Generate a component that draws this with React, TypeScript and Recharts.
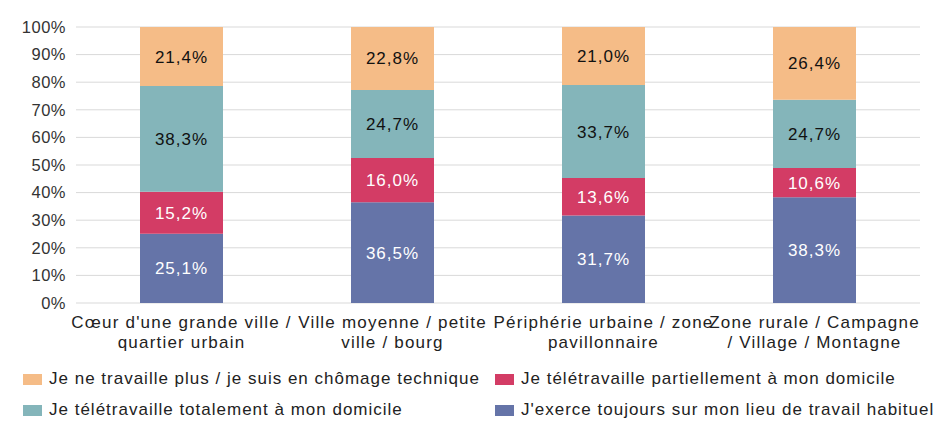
import React from "react";
import {
  BarChart,
  Bar,
  XAxis,
  YAxis,
  CartesianGrid,
  LabelList,
} from "recharts";

// categories, two lines each
const categories = [
  ["Cœur d'une grande ville /", "quartier urbain"],
  ["Ville moyenne / petite", "ville / bourg"],
  ["Périphérie urbaine / zone", "pavillonnaire"],
  ["Zone rurale / Campagne", "/ Village / Montagne"],
];

const exerce = [25.1, 36.5, 31.7, 38.3];
const partiel = [15.2, 16.0, 13.6, 10.6];
const total = [38.3, 24.7, 33.7, 24.7];
const plus = [21.4, 22.8, 21.0, 26.4];

const yTicks = [0, 10, 20, 30, 40, 50, 60, 70, 80, 90, 100];

const series = [
  { key: "exerce", name: "J'exerce toujours sur mon lieu de travail habituel", color: "#6574A8", text: "#ffffff", values: exerce },
  { key: "partiel", name: "Je télétravaille partiellement à mon domicile", color: "#D33C65", text: "#ffffff", values: partiel },
  { key: "total", name: "Je télétravaille totalement à mon domicile", color: "#84B5BA", text: "#111111", values: total },
  { key: "plus", name: "Je ne travaille plus / je suis en chômage technique", color: "#F5BC87", text: "#111111", values: plus },
];

// legend order as in the original (row by row)
const legendOrder = ["plus", "partiel", "total", "exerce"];

const data = categories.map((lines, i) => {
  const row: any = { name: lines.join(" ") };
  series.forEach((s) => {
    row[s.key] = s.values[i];
  });
  return row;
});

const fmt = (v: number) => v.toFixed(1).replace(".", ",") + "%";

const FONT = "'Liberation Sans', Arial, sans-serif";

const CategoryTick: React.FC<any> = ({ x, y, index }) => {
  const lines = categories[index] || [];
  return (
    <text x={x} y={y} textAnchor="middle" fill="#222" fontSize={17} letterSpacing={1.2} fontFamily={FONT}>
      {lines.map((l, i) => (
        <tspan key={i} x={x} dy={i === 0 ? 17 : 20}>
          {l}
        </tspan>
      ))}
    </text>
  );
};

const ChartLegend: React.FC = () => {
  const items = legendOrder.map((k) => series.find((s) => s.key === k)!);
  return (
    <div
      style={{
        position: "absolute",
        left: 23,
        top: 369,
        display: "grid",
        gridTemplateColumns: "472px 450px",
        rowGap: 11,
        fontFamily: FONT,
        fontSize: 17,
        letterSpacing: 1,
        color: "#222",
      }}
    >
      {items.map((s) => (
        <div key={s.key} style={{ display: "flex", alignItems: "center", height: 20 }}>
          <span style={{ width: 19, height: 11, background: s.color, marginRight: 7, display: "inline-block" }} />
          <span style={{ whiteSpace: "nowrap" }}>{s.name}</span>
        </div>
      ))}
    </div>
  );
};

export default function App() {
  return (
    <div style={{ position: "absolute", left: 0, top: 0, width: 945, height: 441, background: "#fff" }}>
      <BarChart
        width={945}
        height={441}
        data={data}
        barSize={83}
        margin={{ top: 27, right: 25, left: 0, bottom: 0 }}
      >
        <CartesianGrid vertical={false} stroke="#D9D9D9" />
        <XAxis
          dataKey="name"
          axisLine={false}
          tickLine={false}
          interval={0}
          height={138}
          tick={<CategoryTick />}
        />
        <YAxis
          width={76}
          domain={[0, 100]}
          ticks={yTicks}
          interval={0}
          axisLine={false}
          tickLine={false}
          tickSize={0}
          tickMargin={10}
          tickFormatter={(v) => `${v}%`}
          tick={{ fill: "#333", fontSize: 16.5, letterSpacing: 0.5, fontFamily: FONT }}
        />
        {series.map((s) => (
          <Bar key={s.key} dataKey={s.key} name={s.name} stackId="a" fill={s.color} isAnimationActive={false}>
            <LabelList
              dataKey={s.key}
              position="center"
              formatter={(v: any) => fmt(Number(v))}
              style={{ fill: s.text, fontSize: 17, letterSpacing: 1, fontFamily: FONT }}
            />
          </Bar>
        ))}
      </BarChart>
      <ChartLegend />
    </div>
  );
}
